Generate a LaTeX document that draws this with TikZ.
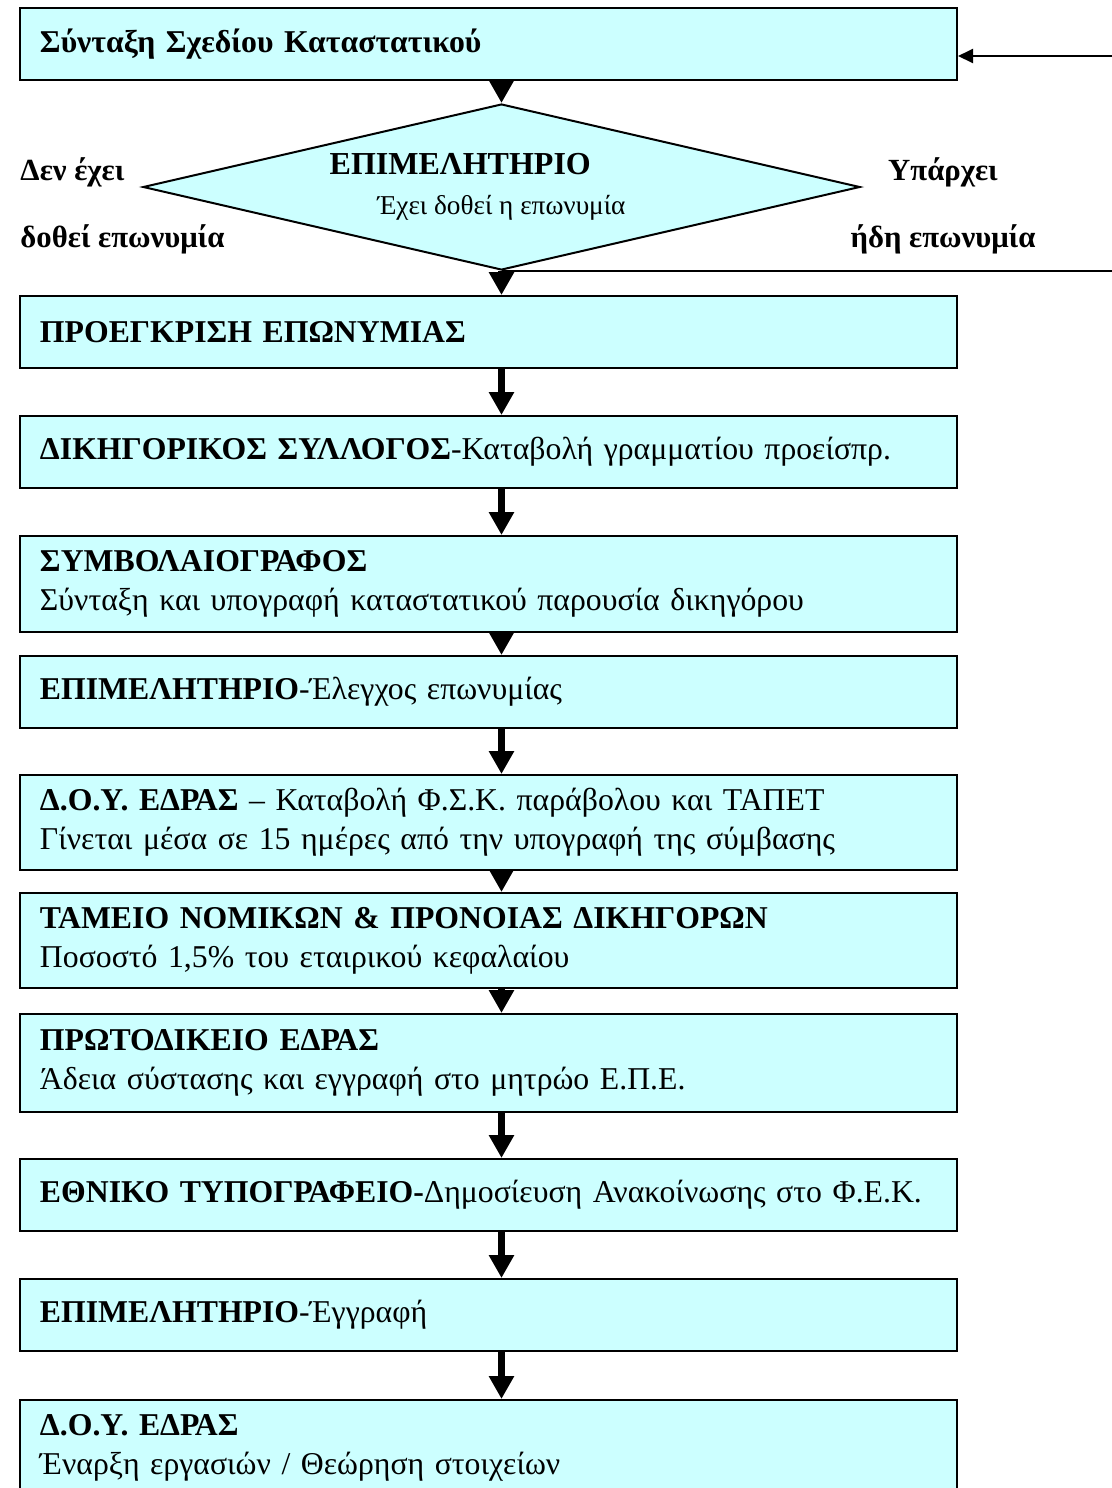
\documentclass[tikz,border=0pt]{standalone}
\usepackage{fontspec}
\setmainfont{Liberation Serif}
\usetikzlibrary{shapes.geometric,arrows.meta}
\definecolor{boxcyan}{HTML}{CCFFFF}

\begin{document}
\begin{tikzpicture}[x=0.4pt,y=-0.4pt,
    font=\fontsize{12.7}{15.6}\selectfont,
    stage/.style={rectangle,draw=black,line width=0.8pt,fill=boxcyan,
      text width=358.8pt,inner xsep=8pt,inner ysep=0pt,align=left,
      minimum height=28.8pt},
    decision/.style={diamond,draw=black,line width=0.8pt,fill=boxcyan,
      minimum width=286.8pt,minimum height=66.4pt,inner sep=0pt,
      aspect=4.3,align=center},
    side/.style={font=\fontsize{12.3}{15.6}\selectfont\bfseries,inner sep=0pt},
    flow/.style={line width=2.8pt,-{Triangle[width=9.6pt,length=9.2pt]}},
    back/.style={line width=0.8pt,-{Triangle[width=5.6pt,length=6pt]}}]
    \def\ax{5.2pt}  % arrows sit right of the box centre

    \useasboundingbox (0,0) rectangle (1112,1488);

    % Boxes of the procedure
    \node[stage] (b1) at (488.5,44) {\textbf{Σύνταξη Σχεδίου Καταστατικού}};
    \node[decision] (dia) at (501.5,187)
      {\fontsize{12.8}{15.6}\selectfont\textbf{ΕΠΙΜΕΛΗΤΗΡΙΟ}\hspace*{33pt}\\[0.4pt]
       \fontsize{10.9}{15.6}\selectfont Έχει δοθεί η επωνυμία};
    \node[stage] (b2) at (488.5,332) {\textbf{ΠΡΟΕΓΚΡΙΣΗ ΕΠΩΝΥΜΙΑΣ}};
    \node[stage] (b3) at (488.5,452)
      {\textbf{ΔΙΚΗΓΟΡΙΚΟΣ ΣΥΛΛΟΓΟΣ}-Καταβολή γραμματίου προείσπρ.};
    \node[stage,minimum height=38.4pt] (b4) at (488.5,584)
      {\textbf{ΣΥΜΒΟΛΑΙΟΓΡΑΦΟΣ}\\Σύνταξη και υπογραφή καταστατικού παρουσία δικηγόρου};
    \node[stage] (b5) at (488.5,692) {\textbf{ΕΠΙΜΕΛΗΤΗΡΙΟ}-Έλεγχος επωνυμίας};
    \node[stage,minimum height=38pt] (b6) at (488.5,822.5)
      {\textbf{Δ.Ο.Υ. ΕΔΡΑΣ} – Καταβολή Φ.Σ.Κ. παράβολου και ΤΑΠΕΤ\\Γίνεται μέσα σε 15 ημέρες από την υπογραφή της σύμβασης};
    \node[stage,minimum height=38pt] (b7) at (488.5,940.5)
      {\textbf{ΤΑΜΕΙΟ ΝΟΜΙΚΩΝ \& ΠΡΟΝΟΙΑΣ ΔΙΚΗΓΟΡΩΝ}\\Ποσοστό 1,5\% του εταιρικού κεφαλαίου};
    \node[stage,minimum height=39.2pt] (b8) at (488.5,1063)
      {\textbf{ΠΡΩΤΟΔΙΚΕΙΟ ΕΔΡΑΣ}\\Άδεια σύστασης και εγγραφή στο μητρώο Ε.Π.Ε.};
    \node[stage] (b9) at (488.5,1195)
      {\textbf{ΕΘΝΙΚΟ ΤΥΠΟΓΡΑΦΕΙΟ-}Δημοσίευση Ανακοίνωσης στο Φ.Ε.Κ.};
    \node[stage] (b10) at (488.5,1315) {\textbf{ΕΠΙΜΕΛΗΤΗΡΙΟ}-Έγγραφή};
    \node[stage,minimum height=38.4pt] (b11) at (488.5,1448)
      {\textbf{Δ.Ο.Υ. ΕΔΡΑΣ}\\Έναρξη εργασιών / Θεώρηση στοιχείων};

    % Labels of the two outcomes
    \node[side,anchor=west,align=left] (noname) at (20,205.5)
      {Δεν έχει\\[11.2pt]δοθεί επωνυμία};
    \node[side,align=center] (hasname) at (943,205.5)
      {Υπάρχει\\[11.2pt]ήδη επωνυμία};

    % Flow arrows
    \draw[flow] ([xshift=\ax]b1.south) -- (dia.north);
    \draw[flow] (dia.south) -- ([xshift=\ax]b2.north);
    \foreach \a/\b in {b2/b3,b3/b4,b4/b5,b5/b6,b6/b7,b7/b8,b8/b9,b9/b10,b10/b11}
      \draw[flow] ([xshift=\ax]\a.south) -- ([xshift=\ax]\b.north);

    % Way back when the name exists
    \coordinate (ret) at (1130,56);
    \draw[back] (dia.south) -| (ret) -- (ret -| b1.east);
\end{tikzpicture}
\end{document}
